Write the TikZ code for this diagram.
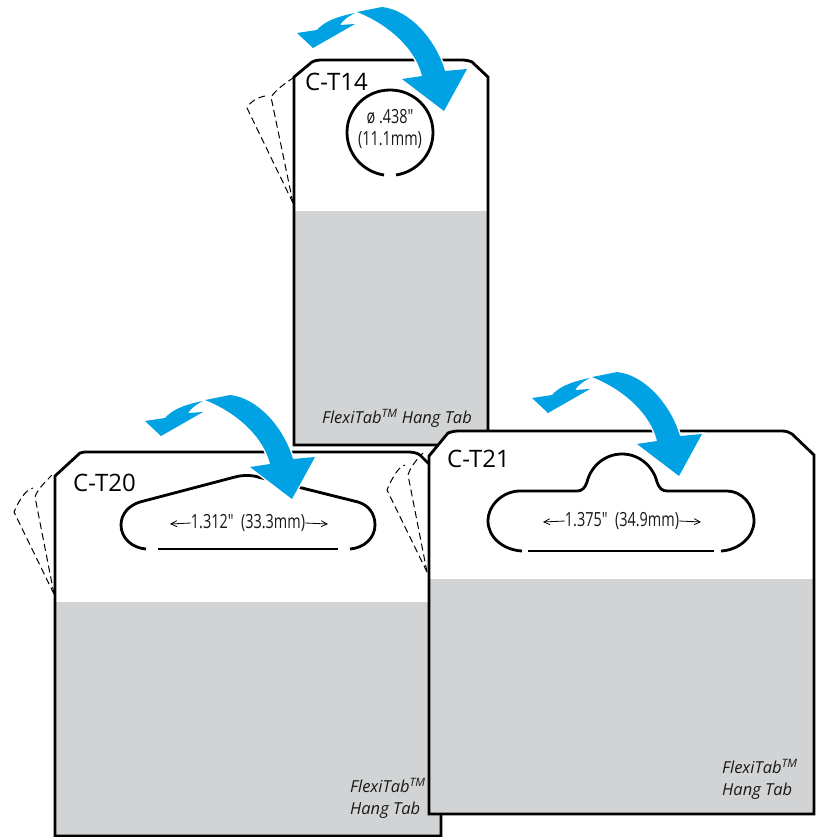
\documentclass[tikz,border=0pt]{standalone}
\usepackage{fontspec}
\setmainfont{Open Sans}
\newfontfamily\condfont[FakeStretch=0.74]{Open Sans}
\usetikzlibrary{arrows.meta}
\definecolor{flexblue}{HTML}{00A2E3}
\definecolor{flexgray}{HTML}{D1D3D4}
\tikzset{
  x=1pt,y=-1pt,
  outline/.style={draw=black,line width=2.8pt,line join=miter},
  slot/.style={draw=black,line width=2.8pt},
  flap/.style={draw=black,line width=1pt,dash pattern=on 7pt off 4pt},
  codetext/.style={font=\fontsize{24}{24}\selectfont,inner sep=0pt,anchor=base west},
  dimtext/.style={font=\condfont\fontsize{19.5}{22}\selectfont,inner sep=0pt,align=center,text=black!90},
  brandtext/.style={font=\itshape\fontsize{16.5}{21.5}\selectfont,inner sep=0pt,align=left,anchor=north west,text=black!90},
  dimarrow/.style={draw=black,line width=0.8pt,-{Straight Barb[length=6pt,width=6pt]}},
  flipmark/.style={fill=flexblue,line join=miter,preaction={draw=white,line width=3pt}},
  flip arrows/.pic={
    \path[flipmark] (355,13) .. controls (335,17) and (324,22) .. (317,30)
       -- (297,33) -- (313,48) -- (355,24) -- (340,25)
       .. controls (343,20) and (349,16) .. (355,13) -- cycle;
    \path[flipmark] (357,12) -- (382,7) .. controls (410,10) and (436,40) .. (445,71)
       -- (467,69) -- (444,111) -- (402,79) -- (422,76)
       .. controls (416,50) and (390,25) .. (357,12) -- cycle;
  }
}
\begin{document}
\begin{tikzpicture}
\useasboundingbox (0,0) rectangle (824,837);
% ---------- C-T14
\fill[white] (294,77) -- (312,62) .. controls (314,61) and (317,60) .. (320,60) -- (462,60)
  .. controls (466,60) and (470,61) .. (472,62) -- (488,77) -- (488,445) -- (294,445) -- cycle;
\fill[flexgray] (294,211) rectangle (488,445);
\draw[flap] (293,203) -- (247,108) .. controls (250,102) and (256,98) .. (265,96);
\draw[flap] (293,203) -- (271,97) .. controls (276,90) and (284,84) .. (293,78);
\draw[outline] (294,77) -- (312,62) .. controls (314,61) and (317,60) .. (320,60) -- (462,60)
  .. controls (466,60) and (470,61) .. (472,62) -- (488,77) -- (488,445) -- (294,445) -- cycle;
\draw[slot] (384,175) .. controls (364,172) and (347,155) .. (347,132.5)
  .. controls (347,109) and (366,90) .. (390,90)
  .. controls (414,90) and (433,109) .. (433,132.5)
  .. controls (433,155) and (416,172) .. (396,175);
\node[codetext] (codeA) at (305,91) {C-T14};
\node[dimtext] (dimA) at (390,129) {ø .438"\\(11.1mm)};
\node[brandtext] (brandA) at (322,409) {FlexiTab\textsuperscript{TM} Hang Tab};
\pic at (0,0) {flip arrows};
% ---------- C-T20
\fill[white] (55,476) -- (80,453) .. controls (82,452) and (85,452) .. (88,452) -- (408,452)
  .. controls (413,452) and (417,453) .. (420,455) -- (441,476) -- (441,836) -- (55,836) -- cycle;
\fill[flexgray] (55,602) rectangle (441,836);
\draw[flap] (54,594) -- (14,512) .. controls (17,505) and (24,490) .. (33,488);
\draw[flap] (54,594) -- (35,497) .. controls (37,490) and (45,482) .. (52,475);
\draw[outline] (55,476) -- (80,453) .. controls (82,452) and (85,452) .. (88,452) -- (408,452)
  .. controls (413,452) and (417,453) .. (420,455) -- (441,476) -- (441,836) -- (55,836) -- cycle;
\draw[slot] (146,549) .. controls (132,548) and (121,538) .. (121,525)
  .. controls (121,513) and (130,505) .. (140,502) -- (235,477)
  .. controls (242,475) and (252,475) .. (258,477) -- (358,502)
  .. controls (368,505) and (375,513) .. (375,525)
  .. controls (375,538) and (364,548) .. (350,549);
\draw[slot] (158,549) -- (338,549);
\node[codetext] (codeB) at (73,491) {C-T20};
\node[dimtext] (dimB) at (248,523) {1.312"\ \ (33.3mm)};
\coordinate (dimBl) at (170,524);
\coordinate (dimBr) at (328,524);
\draw[dimarrow] (dimB.west) -- (dimBl);
\draw[dimarrow] (dimB.east) -- (dimBr);
\node[brandtext] (brandB) at (350,778) {FlexiTab\textsuperscript{TM}\\Hang Tab};
\pic at (-152,388) {flip arrows};
% flaps of C-T21 lie behind its card
\draw[flap] (427,572) -- (387,490) .. controls (390,483) and (397,467) .. (405,465);
\draw[flap] (427,572) -- (408,475) .. controls (410,468) and (416,460) .. (423,453);
% ---------- C-T21
\fill[white] (429,456) -- (448,433) .. controls (451,432) and (454,431) .. (458,431) -- (782,431)
  .. controls (786,431) and (789,432) .. (792,434) -- (814,455) -- (814,814) -- (429,814) -- cycle;
\fill[flexgray] (429,579) rectangle (814,814);
\draw[outline] (429,456) -- (448,433) .. controls (451,432) and (454,431) .. (458,431) -- (782,431)
  .. controls (786,431) and (789,432) .. (792,434) -- (814,455) -- (814,814) -- (429,814) -- cycle;
\draw[slot] (522,551) .. controls (503,550) and (488,537) .. (488,521)
  .. controls (488,505) and (503,491) .. (520,491) -- (577,491)
  .. controls (582,491) and (585,488) .. (587,482)
  .. controls (591,466) and (605,454) .. (622,454)
  .. controls (639,454) and (653,466) .. (657,482)
  .. controls (659,488) and (662,491) .. (667,491) -- (727,491)
  .. controls (742,491) and (754,505) .. (754,521)
  .. controls (754,537) and (739,550) .. (721,551);
\draw[slot] (528,551) -- (714,551);
\node[codetext] (codeC) at (447,467) {C-T21};
\node[dimtext] (dimC) at (622,521) {1.375"\ \ (34.9mm)};
\coordinate (dimCl) at (543,522);
\coordinate (dimCr) at (701,522);
\draw[dimarrow] (dimC.west) -- (dimCl);
\draw[dimarrow] (dimC.east) -- (dimCr);
\node[brandtext] (brandC) at (722,759) {FlexiTab\textsuperscript{TM}\\Hang Tab};
\pic at (235,365) {flip arrows};
\end{tikzpicture}
\end{document}
